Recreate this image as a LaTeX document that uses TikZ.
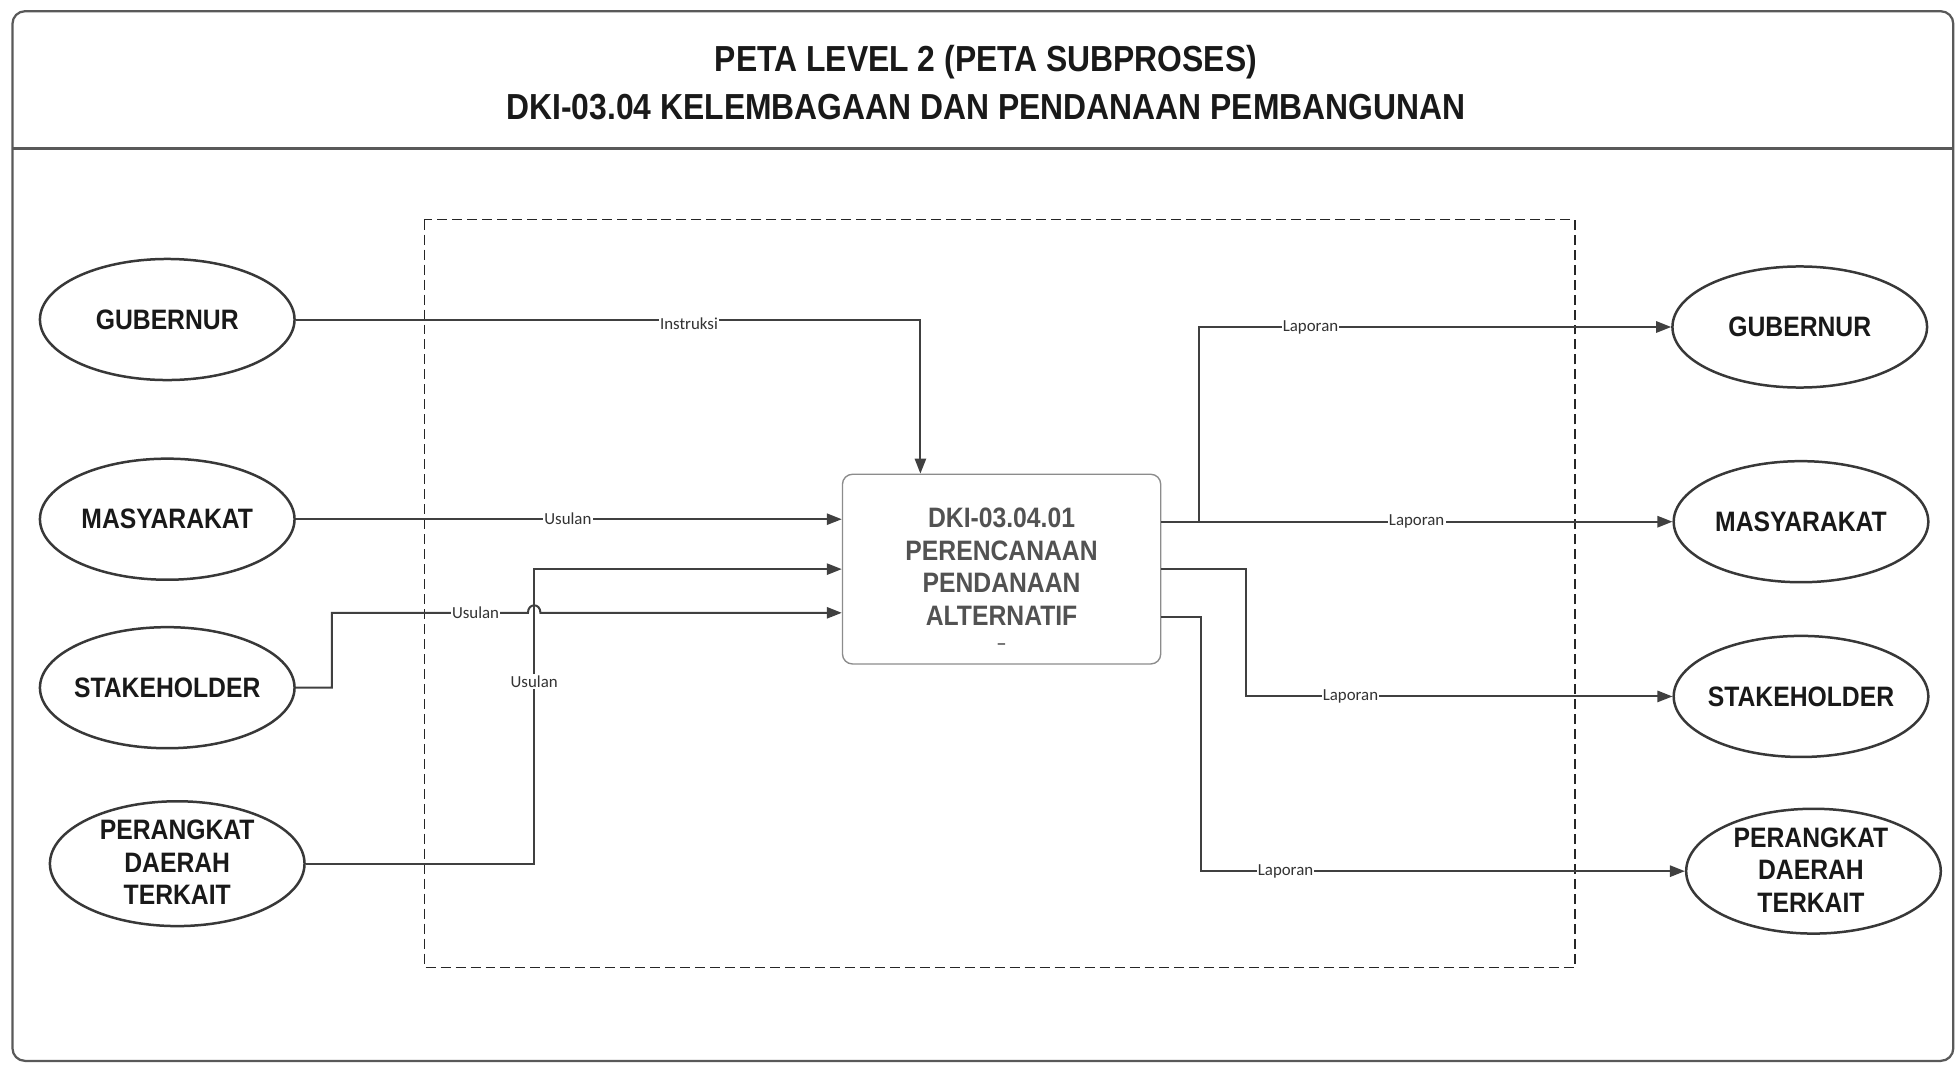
\documentclass[tikz,border=0pt]{standalone}
\usepackage{fontspec}
\setmainfont{Liberation Sans}
\newfontfamily\narrowfont[FakeStretch=0.88]{Liberation Sans}
\newfontfamily\lblfont{Carlito}
\usetikzlibrary{shapes.geometric,arrows.meta,calc}
\begin{document}
\begin{tikzpicture}[x=1pt,y=-1pt,
  ent/.style={ellipse,draw=black!78,line width=2pt,fill=white,minimum width=204pt,minimum height=97pt,inner sep=0pt},
  enttxt/.style={font=\narrowfont\bfseries\fontsize{22.5}{26}\selectfont,text=black!90,align=center},
  conn/.style={draw=black!75,line width=1.6pt},
  arr/.style={conn,-{Triangle[length=12pt,width=9pt]}},
  lbl/.style={font=\lblfont\fontsize{13.5}{15}\selectfont,text=black!80,fill=white,inner sep=1pt},
  procbox/.style={draw=black!45,line width=1.1pt,rounded corners=8pt,fill=white,minimum width=255pt,minimum height=152pt,inner sep=0pt},
  proctxt/.style={font=\narrowfont\bfseries\fontsize{22.5}{26.3}\selectfont,text=black!68,align=center},
  titletxt/.style={font=\narrowfont\bfseries\fontsize{29}{34}\selectfont,text=black!90}]
\useasboundingbox (0,0) rectangle (1568,853);
% outer frame
\draw[draw=black!65,line width=1.8pt,rounded corners=10pt] (10,9) rectangle (1565,850);
\coordinate (hl) at (10,119);
\coordinate (hr) at (1565,119);
\draw[draw=black!65,line width=1.8pt] (hl) -- (hr);
\node[titletxt] (t1) at (790,50) {PETA LEVEL 2 (PETA SUBPROSES)};
\node[titletxt] (t2) at (790,86) {DKI-03.04 KELEMBAGAAN DAN PENDANAAN PEMBANGUNAN};
% dashed boundary
\draw[draw=black!85,line width=1.2pt,dash pattern=on 8pt off 4pt] (340,176) rectangle (1262,775);
% process
\node[procbox] (p) at (802.5,456) {};
\node[proctxt] (ptxt) at (802.5,454) {DKI-03.04.01\\PERENCANAAN\\PENDANAAN\\ALTERNATIF};
\node[font=\bfseries\fontsize{12}{12}\selectfont,text=black!70,inner sep=0pt] (pdash) at (802.5,518) {--};
% left entities
\node[ent] (l1) at (134,256) {};
\node[enttxt] (l1t) at (l1) {GUBERNUR};
\node[ent] (l2) at (134,416) {};
\node[enttxt] (l2t) at (l2) {MASYARAKAT};
\node[ent] (l3) at (134,551) {};
\node[enttxt] (l3t) at (l3) {STAKEHOLDER};
\node[ent,minimum height=100pt] (l4) at (142,692) {};
\node[enttxt] (l4t) at (142,691) {PERANGKAT\\DAERAH\\TERKAIT};
% right entities
\node[ent] (r1) at (1442,262) {};
\node[enttxt] (r1t) at (r1) {GUBERNUR};
\node[ent] (r2) at (1443,418) {};
\node[enttxt] (r2t) at (r2) {MASYARAKAT};
\node[ent] (r3) at (1443,558) {};
\node[enttxt] (r3t) at (r3) {STAKEHOLDER};
\node[ent,minimum height=100pt] (r4) at (1453,698) {};
\node[enttxt] (r4t) at (1451,697) {PERANGKAT\\DAERAH\\TERKAIT};
% inputs
\draw[arr] (l1.east) -| ([xshift=63pt]p.north west);
\draw[arr] (l2.east) -- (l2.east -| p.west);
\coordinate (s1) at (266,491);
\draw[arr] (l3.east) -| (s1) -- (423,491) .. controls (423,483) and (433,483) .. (433,491) -- ($(p.west)+(0,35)$);
\coordinate (q1) at (428,456);
\draw[arr] (l4.east) -| (q1) -- (p.west);
% outputs
\coordinate (o1) at ($(p.east)+(0,-38)$);
\coordinate (o3) at ($(p.east)+(0,38)$);
\draw[arr] (o1) -- ++(30,0) |- (r1.west);
\draw[arr] (o1) -- (r2.west);
\draw[arr] (p.east) -- ++(68,0) |- (r3.west);
\draw[arr] (o3) -- ++(32,0) |- (r4.west);
% labels
\node[lbl] (a1) at (552,259) {Instruksi};
\node[lbl] (a2) at (455,416) {Usulan};
\node[lbl] (a3) at (381,491) {Usulan};
\node[lbl] (a4) at (428,546) {Usulan};
\node[lbl] (b1) at (1050,262) {Laporan};
\node[lbl] (b2) at (1135,418) {Laporan};
\node[lbl] (b3) at (1082,558) {Laporan};
\node[lbl] (b4) at (1030,698) {Laporan};
\end{tikzpicture}
\end{document}
